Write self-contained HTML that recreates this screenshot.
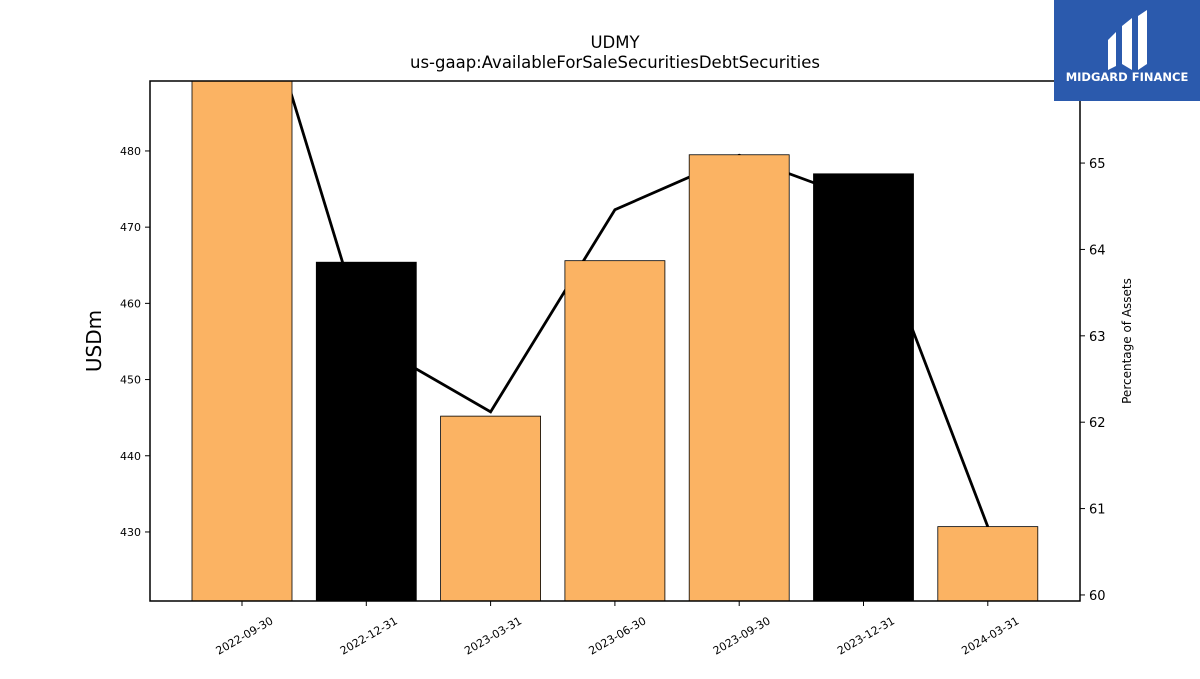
<!DOCTYPE html>
<html><head><meta charset="utf-8"><style>
body{margin:0;background:#fff;font-family:"DejaVu Sans","Liberation Sans",sans-serif}
svg text{font-family:"DejaVu Sans","Liberation Sans",sans-serif}
</style></head><body>
<svg id="chart" width="1200" height="675" xmlns="http://www.w3.org/2000/svg">
<defs><clipPath id="plotclip"><rect x="150" y="81" width="930" height="520"/></clipPath></defs>
<text x="615" y="48" font-size="16.5" text-anchor="middle">UDMY</text>
<text x="615" y="68" font-size="16.5" text-anchor="middle">us-gaap:AvailableForSaleSecuritiesDebtSecurities</text>
<g id="lineLayer" clip-path="url(#plotclip)"></g>
<g id="barLayer" clip-path="url(#plotclip)"></g>
<rect x="150" y="81" width="930" height="520" fill="none" stroke="#000" stroke-width="1.5"/>
<g id="axes"></g>
<text transform="translate(101,341) rotate(-90)" font-size="20" text-anchor="middle">USDm</text>
<text transform="translate(1131,341) rotate(-90)" font-size="12" text-anchor="middle">Percentage of Assets</text>
<g>
<rect x="1054" y="0" width="146" height="101" fill="#2b5aad"/>
<path d="M1108 40 L1116 32 L1116 66 L1108 70 Z" fill="#fff"/>
<path d="M1122 26 L1132 18 L1132 70 L1122 64 Z" fill="#fff"/>
<path d="M1138 16 L1147 10 L1147 64 L1138 70 Z" fill="#fff"/>
<text x="1127" y="81" font-size="11.5" font-weight="bold" fill="#fff" text-anchor="middle">MIDGARD FINANCE</text>
</g>
</svg>
<script>
const categories=["2022-09-30","2022-12-31","2023-03-31","2023-06-30","2023-09-30","2023-12-31","2024-03-31"];
const barValues=[500,465.4,445.2,465.6,479.5,477.0,430.7];
const barColors=["#fbb363","#000000","#fbb363","#fbb363","#fbb363","#000000","#fbb363"];
const pctValues=[67.67,62.95,62.12,64.46,65.09,64.56,60.79];
const leftTicks=[430,440,450,460,470,480];
const rightTicks=[60,61,62,63,64,65];
const NS="http://www.w3.org/2000/svg";
const L=150,R=1080,T=81,B=601;
const yL=v=>B-(v-420.94)/(489.18-420.94)*(B-T);
const yR=v=>B-(v-59.93)/(65.95-59.93)*(B-T);
const step=(R-L)/categories.length*0.937;
const x=i=>242+i*124.3;
function mk(tag,attrs,parent){const e=document.createElementNS(NS,tag);for(const k in attrs)e.setAttribute(k,attrs[k]);parent.appendChild(e);return e;}
const bars=document.getElementById('barLayer'),lines=document.getElementById('lineLayer'),axes=document.getElementById('axes');
let pts=pctValues.map((v,i)=>x(i)+','+yR(v)).join(' ');
const pl=mk('polyline',{points:pts,fill:'none',stroke:'#000','stroke-width':2.8},lines);


barValues.forEach((v,i)=>{
 const r=mk('rect',{x:x(i)-50,y:yL(v),width:100,height:B-yL(v),fill:barColors[i],stroke:'#000','stroke-width':0.8},bars);
 
 
});
leftTicks.forEach(t=>{
 const y=yL(t);
 mk('line',{x1:L-5,x2:L,y1:y,y2:y,stroke:'#000'},axes);
 const tx=mk('text',{x:L-9,y:y+4,'font-size':11,'text-anchor':'end'},axes);tx.textContent=t;
 
 
});
rightTicks.forEach(t=>{
 const y=yR(t);
 mk('line',{x1:R,x2:R+5,y1:y,y2:y,stroke:'#000'},axes);
 const tx=mk('text',{x:R+9,y:y+5,'font-size':13},axes);tx.textContent=t;
 
 
});
categories.forEach((c,i)=>{
 const xx=x(i);
 mk('line',{x1:xx,x2:xx,y1:B,y2:B+5,stroke:'#000'},axes);
 const tx=mk('text',{transform:`translate(${xx+32},${B+22}) rotate(-30)`,'font-size':11,'text-anchor':'end'},axes);tx.textContent=c;
 
 
});
</script>
</body></html>
